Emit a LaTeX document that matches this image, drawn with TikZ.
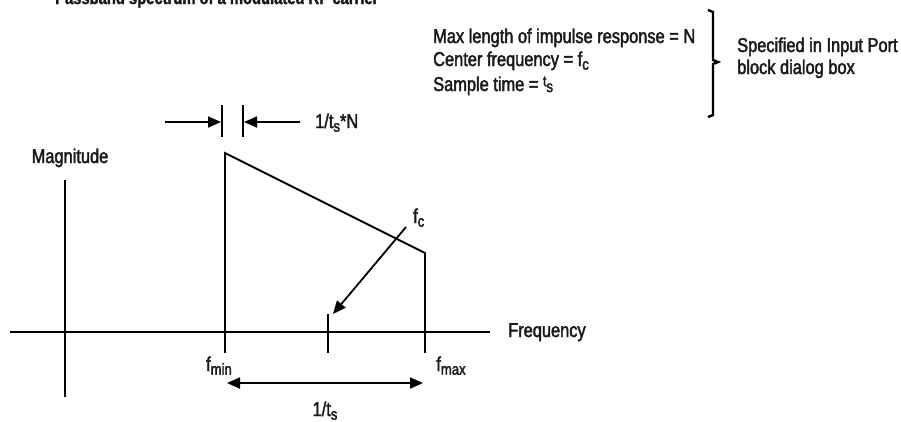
\documentclass[tikz,border=0pt]{standalone}
\usepackage{fontspec}
\setmainfont{Liberation Sans}[FakeStretch=0.82,FakeBold=2]
\usetikzlibrary{arrows.meta}
\newcommand{\lsub}[1]{\raisebox{-0.35ex}{\fontsize{16}{16}\selectfont #1}}
\begin{document}
\begin{tikzpicture}[x=1pt,y=-1pt,
  ax/.style={line width=1.8pt},
  tk/.style={line width=2.4pt},
  arr/.style={line width=1.8pt,-{Triangle[length=13pt,width=11pt]}},
  darr/.style={line width=1.8pt,{Triangle[length=13pt,width=11pt]}-{Triangle[length=13pt,width=11pt]}},
  lbl/.style={font=\fontsize{20}{22}\selectfont, inner sep=0pt, text=black!90}]
\useasboundingbox (0,0) rectangle (901,421);
% title (cut off at top, as in the reference)
\node[lbl, anchor=base west, font=\fontsize{18}{20}\bfseries] (title) at (55,4) {Passband spectrum of a modulated RF carrier};
% parameter text
\node[lbl, anchor=base west] (p1) at (433,43) {Max length of impulse response = N};
\node[lbl, anchor=base west] (p2) at (433,66) {Center frequency = f\lsub{c}};
\node[lbl, anchor=base west] (p3) at (433,91) {Sample time = \raisebox{0.45ex}{\fontsize{15}{15}\selectfont t}\raisebox{-0.1ex}{\fontsize{16}{16}\selectfont s}};
\node[lbl, anchor=base west] (s1) at (737,52) {Specified in Input Port};
\node[lbl, anchor=base west] (s2) at (737,74) {block dialog box};
% bracket
\draw[tk, line cap=butt, line join=miter] (708,10) -- (713,12) -- (713,60) -- (718,62) -- (713,64) -- (713,115) -- (708,117);
% axes
\coordinate (xl) at (10,332); \coordinate (xr) at (490,332);
\coordinate (yt) at (65,180); \coordinate (yb) at (65,397);
\draw[ax] (xl) -- (xr);
\draw[ax] (yt) -- (yb);
\node[lbl, anchor=base] (mag) at (70,163) {Magnitude};
\node[lbl, anchor=base west] (freq) at (508,337) {Frequency};
% spectrum
\coordinate (fmin) at (225,332); \coordinate (fmax) at (425,332); \coordinate (fcx) at (328,332);
\coordinate (top) at (225,153); \coordinate (rt) at (425,253);
\draw[ax, line join=miter] (225,314) -- (top) -- (rt) -- (425,314);
\draw[tk] (225,314) -- (225,353);
\draw[tk] (425,314) -- (425,353);
\draw[tk] (328,314) -- (328,353);
\node[lbl, anchor=base] (fminl) at (219,371) {f\lsub{min}};
\node[lbl, anchor=base] (fmaxl) at (451,371) {f\lsub{max}};
% fc arrow
\node[lbl, anchor=base west] (fcl) at (413,223) {f\lsub{c}};
\coordinate (fcs) at (406,227); \coordinate (fce) at (333,314);
\draw[arr] (fcs) -- (fce);
% 1/ts
\coordinate (da) at (227,383); \coordinate (db) at (423,383);
\draw[darr] (da) -- (db);
\node[lbl, anchor=base] (tsl) at (325,416) {1/t\lsub{s}};
% top dimension
\draw[tk] (222,105) -- (222,137);
\draw[tk] (243,105) -- (243,137);
\coordinate (a1) at (165,122); \coordinate (a1e) at (221,122);
\coordinate (a2) at (300,122); \coordinate (a2e) at (244,122);
\draw[arr] (a1) -- (a1e);
\draw[arr] (a2) -- (a2e);
\node[lbl, anchor=base west] (tsn) at (315,128) {1/t\lsub{s}*N};
\end{tikzpicture}
\end{document}
